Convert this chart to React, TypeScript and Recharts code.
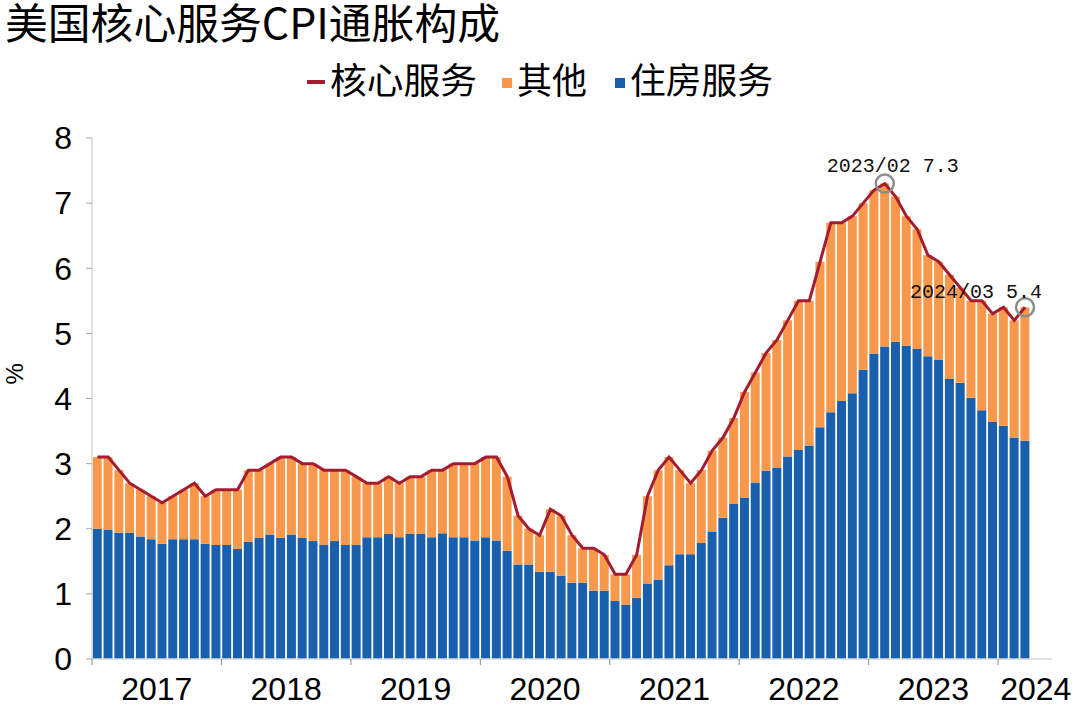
import React from "react";
import {
  ComposedChart,
  Bar,
  Line,
  XAxis,
  YAxis,
  ReferenceDot,
} from "recharts";

// 月份：2017/01 ~ 2024/05（最后两个月为空位）
const years = [2017, 2018, 2019, 2020, 2021, 2022, 2023, 2024];
const months: string[] = [];
years.forEach((y) => {
  for (let m = 1; m <= 12; m++) {
    if (y === 2024 && m > 5) break;
    months.push(`${y}/${String(m).padStart(2, "0")}`);
  }
});

// 核心服务 CPI 同比 %
const core = [
  3.1, 3.1, 2.9, 2.7, 2.6, 2.5, 2.4, 2.5, 2.6, 2.7, 2.5, 2.6,
  2.6, 2.6, 2.9, 2.9, 3.0, 3.1, 3.1, 3.0, 3.0, 2.9, 2.9, 2.9,
  2.8, 2.7, 2.7, 2.8, 2.7, 2.8, 2.8, 2.9, 2.9, 3.0, 3.0, 3.0,
  3.1, 3.1, 2.8, 2.2, 2.0, 1.9, 2.3, 2.2, 1.9, 1.7, 1.7, 1.6,
  1.3, 1.3, 1.6, 2.5, 2.9, 3.1, 2.9, 2.7, 2.9, 3.2, 3.4, 3.7,
  4.1, 4.4, 4.7, 4.9, 5.2, 5.5, 5.5, 6.1, 6.7, 6.7, 6.8, 7.0,
  7.2, 7.3, 7.1, 6.8, 6.6, 6.2, 6.1, 5.9, 5.7, 5.5, 5.5, 5.3,
  5.4, 5.2, 5.4,
];

// 住房服务拉动
const housing = [
  2.0, 1.99, 1.94, 1.94, 1.88, 1.84, 1.77, 1.84, 1.84, 1.84, 1.77, 1.75,
  1.75, 1.69, 1.8, 1.86, 1.91, 1.86, 1.91, 1.86, 1.81, 1.75, 1.81, 1.75,
  1.75, 1.87, 1.87, 1.92, 1.87, 1.92, 1.92, 1.87, 1.93, 1.87, 1.87, 1.82,
  1.87, 1.82, 1.66, 1.45, 1.45, 1.34, 1.34, 1.28, 1.17, 1.17, 1.05, 1.05,
  0.89, 0.83, 0.94, 1.16, 1.22, 1.44, 1.61, 1.61, 1.78, 1.95, 2.17, 2.38,
  2.48, 2.71, 2.89, 2.94, 3.11, 3.21, 3.28, 3.56, 3.79, 3.96, 4.08, 4.44,
  4.69, 4.8, 4.87, 4.81, 4.76, 4.65, 4.6, 4.3, 4.24, 4.01, 3.82, 3.64,
  3.58, 3.4, 3.35,
];

// 其他拉动
const other = [
  1.1, 1.11, 0.96, 0.76, 0.72, 0.66, 0.63, 0.66, 0.76, 0.86, 0.73, 0.85,
  0.85, 0.91, 1.1, 1.04, 1.09, 1.24, 1.19, 1.14, 1.19, 1.15, 1.09, 1.15,
  1.05, 0.83, 0.83, 0.88, 0.83, 0.88, 0.88, 1.03, 0.97, 1.13, 1.13, 1.18,
  1.23, 1.28, 1.14, 0.75, 0.55, 0.56, 0.96, 0.92, 0.73, 0.53, 0.65, 0.55,
  0.41, 0.47, 0.66, 1.34, 1.68, 1.66, 1.29, 1.09, 1.12, 1.25, 1.23, 1.32,
  1.62, 1.69, 1.81, 1.96, 2.09, 2.29, 2.22, 2.54, 2.91, 2.74, 2.72, 2.56,
  2.51, 2.5, 2.23, 1.99, 1.84, 1.55, 1.5, 1.6, 1.46, 1.49, 1.68, 1.66,
  1.82, 1.8, 2.05,
];

const yTicks = [0, 1, 2, 3, 4, 5, 6, 7, 8];

const notes = [
  { x: "2023/02", y: 7.3, text: "2023/02 7.3", dx: 8, dy: -12 },
  { x: "2024/03", y: 5.4, text: "2024/03 5.4", dx: -49, dy: -9 },
];

const rows = months.map((m, i) => ({
  month: m,
  housing: housing[i],
  other: other[i],
  core: core[i],
}));

const BLUE = "#1860AE";
const ORANGE = "#F7984B";
const RED = "#A51C30";
const CJK = '"Noto Sans CJK SC", sans-serif';
const SANS = '"Liberation Sans", Arial, sans-serif';

const CHART_W = 1080;
const LEFT = 92;
const RIGHT = 28;
const BAND = (CHART_W - LEFT - RIGHT) / months.length;

const YearTick = (props: any) => {
  const { x, y, payload } = props;
  const [yy, mm] = String(payload.value).split("/");
  const m = Number(mm);
  const left = x - BAND / 2;
  const labelAt = yy === "2024" ? 4 : 7;
  const labelX = yy === "2024" ? x : left;
  return (
    <g>
      {m === 1 && (
        <line x1={left} x2={left} y1={y} y2={y + 6} stroke="#8c8c8c" strokeWidth={1} />
      )}
      {m === labelAt && (
        <text
          x={labelX}
          y={y + 41}
          textAnchor="middle"
          fontSize={32}
          fontFamily={SANS}
          fill="#000"
        >
          {yy}
        </text>
      )}
    </g>
  );
};

const NoteLabel = (props: any) => {
  const { viewBox, text, dx, dy } = props;
  const cx = viewBox.x + viewBox.width / 2;
  const cy = viewBox.y + viewBox.height / 2;
  return (
    <text
      x={cx + dx}
      y={cy + dy}
      textAnchor="middle"
      fontSize={20}
      fontFamily='"Liberation Mono", monospace'
      fill="#111"
    >
      {text}
    </text>
  );
};

export default function App() {
  return (
    <div
      style={{
        position: "absolute",
        left: 0,
        top: 0,
        width: 1080,
        height: 708,
        background: "#fff",
        overflow: "hidden",
      }}
    >
      <ComposedChart
        width={CHART_W}
        height={708}
        data={rows}
        margin={{ top: 138, right: RIGHT, bottom: 0, left: 0 }}
        barCategoryGap="7%"
        barGap={0}
      >
        <XAxis
          dataKey="month"
          height={49}
          interval={0}
          tickLine={false}
          tickSize={0}
          tickMargin={0}
          axisLine={{ stroke: "#d9d9d9", strokeWidth: 1.5 }}
          tick={<YearTick />}
        />
        <YAxis
          domain={[0, 8]}
          ticks={yTicks}
          width={LEFT}
          tickSize={6}
          tickMargin={14}
          tickLine={{ stroke: "#a6a6a6" }}
          axisLine={{ stroke: "#d9d9d9", strokeWidth: 1.5 }}
          tick={{ fontSize: 32, fill: "#000", fontFamily: SANS }}
          label={{
            value: "%",
            angle: -90,
            position: "insideLeft",
            offset: 14,
            dy: -14,
            style: { fontSize: 24, fill: "#000", fontFamily: SANS },
          }}
        />
        <Bar dataKey="housing" stackId="a" fill={BLUE} isAnimationActive={false} />
        <Bar dataKey="other" stackId="a" fill={ORANGE} isAnimationActive={false} />
        <Line
          dataKey="core"
          type="linear"
          stroke={RED}
          strokeWidth={3}
          dot={false}
          activeDot={false}
          isAnimationActive={false}
        />
        {notes.map((n) => (
          <ReferenceDot
            key={n.x}
            x={n.x}
            y={n.y}
            r={9}
            fill="none"
            stroke="#8c8c8c"
            strokeWidth={2.5}
            label={<NoteLabel text={n.text} dx={n.dx} dy={n.dy} />}
          />
        ))}
      </ComposedChart>

      {/* 标题与图例 */}
      <svg
        width={1080}
        height={110}
        style={{ position: "absolute", left: 0, top: 0 }}
      >
        <text
          x={5}
          y={39}
          fontSize={42}
          fontFamily={CJK}
          fill="#000"
          textLength={495}
          lengthAdjust="spacingAndGlyphs"
        >
          美国核心服务CPI通胀构成
        </text>
        <rect x={307} y={80} width={18} height={4} fill={RED} />
        <text x={330} y={94} fontSize={36} fontFamily={CJK} fill="#000" textLength={147} lengthAdjust="spacingAndGlyphs">
          核心服务
        </text>
        <rect x={502} y={78} width={10} height={10} fill={ORANGE} />
        <text x={517} y={94} fontSize={36} fontFamily={CJK} fill="#000" textLength={70} lengthAdjust="spacingAndGlyphs">
          其他
        </text>
        <rect x={615} y={78} width={10} height={10} fill={BLUE} />
        <text x={630} y={94} fontSize={36} fontFamily={CJK} fill="#000" textLength={143} lengthAdjust="spacingAndGlyphs">
          住房服务
        </text>
      </svg>
    </div>
  );
}
